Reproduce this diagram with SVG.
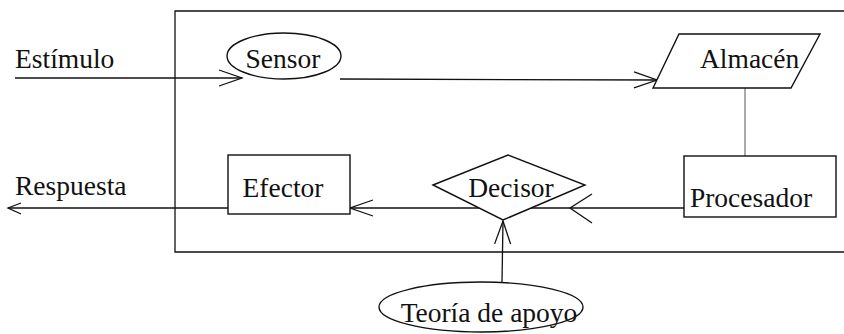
<svg xmlns="http://www.w3.org/2000/svg" width="844" height="334" viewBox="0 0 844 334">
<style>
  .ln { stroke: #111; stroke-width: 1.3; fill: none; }
  .thin { stroke: #555; stroke-width: 1; fill: none; }
  .shape { stroke: #111; stroke-width: 1.4; fill: #fff; }
  text { font-family: "Liberation Serif", "Times New Roman", serif; font-size: 27.5px; fill: #111; }
  .c { text-anchor: middle; }
</style>
<defs>
  <marker id="arr" markerUnits="userSpaceOnUse" markerWidth="30" markerHeight="24" viewBox="-26 -12 30 24" refX="0" refY="0" orient="auto" overflow="visible">
    <path d="M-23,-8 L0,0 L-23,8" stroke="#111" stroke-width="1.3" fill="none"/>
  </marker>
  <marker id="arrL" markerUnits="userSpaceOnUse" markerWidth="30" markerHeight="36" viewBox="-26 -18 30 36" refX="0" refY="0" orient="auto" overflow="visible">
    <path d="M-22,-15 L0,0 L-22,14" stroke="#111" stroke-width="1.3" fill="none"/>
  </marker>
  <marker id="arrS" markerUnits="userSpaceOnUse" markerWidth="20" markerHeight="16" viewBox="-16 -8 20 16" refX="0" refY="0" orient="auto" overflow="visible">
    <path d="M-13,-6 L0,0 L-13,5" stroke="#111" stroke-width="1.3" fill="none"/>
  </marker>
</defs>

<g id="frame">
  <path class="ln" d="M844,11 H175 V252 H844"/>
</g>

<g id="labels">
  <text x="15" y="68">Estímulo</text>
  <text x="15" y="195">Respuesta</text>
</g>

<g id="connectors">
  <line class="ln" x1="15" y1="78" x2="242" y2="78" marker-end="url(#arr)"/>
  <line class="ln" x1="340" y1="79" x2="657" y2="80" marker-end="url(#arr)"/>
  <line class="thin" x1="745" y1="88" x2="745" y2="156"/>
  <line class="ln" x1="684" y1="208" x2="570" y2="208" marker-end="url(#arrL)"/>
  <line class="ln" x1="570" y1="208" x2="350" y2="208" marker-end="url(#arr)"/>
  <line class="ln" x1="228" y1="208" x2="8" y2="208" marker-end="url(#arrS)"/>
  <line class="ln" x1="502" y1="282" x2="503" y2="221" marker-end="url(#arr)"/>
</g>

<g id="sensor">
  <ellipse class="shape" cx="284" cy="56" rx="57" ry="23"/>
  <text class="c" x="283" y="68">Sensor</text>
</g>

<g id="almacen">
  <polygon class="shape" points="679,34 820,34 791,88 653,88"/>
  <text x="700" y="68">Almacén</text>
</g>

<g id="procesador">
  <rect class="shape" x="684" y="156" width="152" height="61"/>
  <text class="c" x="751" y="207">Procesador</text>
</g>

<g id="decisor">
  <polygon class="shape" points="433,185 508,155 585,185 503,220"/>
  <text class="c" x="511" y="197">Decisor</text>
</g>

<g id="efector">
  <rect class="shape" x="228" y="155" width="122" height="59"/>
  <text class="c" x="283" y="197">Efector</text>
</g>

<g id="teoria">
  <ellipse class="shape" cx="481" cy="307" rx="102" ry="25"/>
  <text class="c" x="489" y="322">Teoría de apoyo</text>
</g>
</svg>
